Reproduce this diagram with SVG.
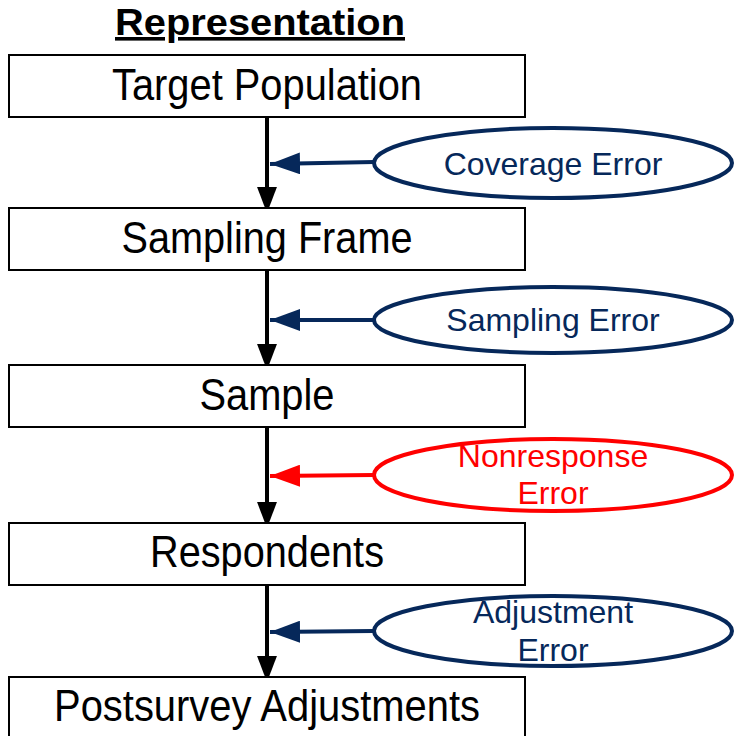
<svg xmlns="http://www.w3.org/2000/svg" width="734" height="736" viewBox="0 0 734 736">
<style>
.box{fill:#fff;stroke:#000;stroke-width:2}
.bt{font-family:"Liberation Sans",Arial,sans-serif;font-size:44px;fill:#000;text-anchor:middle}
.et{font-family:"Liberation Sans",Arial,sans-serif;font-size:32px;text-anchor:middle}
.navy{fill:#fff;stroke:#06285a;stroke-width:4}
.red{fill:#fff;stroke:#ff0000;stroke-width:4}
</style>
<defs>
<marker id="ab" markerUnits="userSpaceOnUse" markerWidth="26" markerHeight="34" refX="26" refY="13" orient="auto" viewBox="0 0 34 26"><path d="M0,0 L34,13 L0,26 Z" fill="#000"/></marker>
<marker id="an" markerUnits="userSpaceOnUse" markerWidth="30" markerHeight="22" refX="30" refY="11" orient="auto" viewBox="0 0 30 22"><path d="M0,0 L30,11 L0,22 Z" fill="#06285a"/></marker>
<marker id="ar" markerUnits="userSpaceOnUse" markerWidth="30" markerHeight="22" refX="30" refY="11" orient="auto" viewBox="0 0 30 22"><path d="M0,0 L30,11 L0,22 Z" fill="#ff0000"/></marker>
</defs>
<text x="260" y="35" font-family="Liberation Sans,Arial,sans-serif" font-size="36" font-weight="bold" text-anchor="middle" text-decoration="underline" textLength="290" lengthAdjust="spacingAndGlyphs">Representation</text>
<g id="connectors">
<line x1="267" y1="117" x2="267" y2="207" stroke="#000" stroke-width="4" marker-end="url(#ab)"/>
<line x1="267" y1="270" x2="267" y2="364" stroke="#000" stroke-width="4" marker-end="url(#ab)"/>
<line x1="267" y1="427" x2="267" y2="522" stroke="#000" stroke-width="4" marker-end="url(#ab)"/>
<line x1="267" y1="585" x2="267" y2="676" stroke="#000" stroke-width="4" marker-end="url(#ab)"/>
<line x1="374" y1="162" x2="270" y2="164" stroke="#06285a" stroke-width="4" marker-end="url(#an)"/>
<line x1="374" y1="320" x2="270" y2="320" stroke="#06285a" stroke-width="4" marker-end="url(#an)"/>
<line x1="374" y1="475" x2="270" y2="476" stroke="#ff0000" stroke-width="4" marker-end="url(#ar)"/>
<line x1="374" y1="631" x2="270" y2="632" stroke="#06285a" stroke-width="4" marker-end="url(#an)"/>
</g>
<g id="target"><rect class="box" x="9" y="55" width="516" height="62"/><text class="bt" x="267" y="100" textLength="310" lengthAdjust="spacingAndGlyphs">Target Population</text></g>
<g id="frame"><rect class="box" x="9" y="208" width="516" height="62"/><text class="bt" x="267" y="253" textLength="291" lengthAdjust="spacingAndGlyphs">Sampling Frame</text></g>
<g id="sample"><rect class="box" x="9" y="365" width="516" height="62"/><text class="bt" x="267" y="410" textLength="135" lengthAdjust="spacingAndGlyphs">Sample</text></g>
<g id="respondents"><rect class="box" x="9" y="523" width="516" height="62"/><text class="bt" x="267" y="567" textLength="234" lengthAdjust="spacingAndGlyphs">Respondents</text></g>
<g id="postsurvey"><rect class="box" x="9" y="677" width="516" height="70"/><text class="bt" x="267" y="721" textLength="426" lengthAdjust="spacingAndGlyphs">Postsurvey Adjustments</text></g>
<g id="coverage"><ellipse class="navy" cx="553" cy="163" rx="179" ry="35"/><text class="et" x="553" y="175" fill="#06285a">Coverage Error</text></g>
<g id="sampling"><ellipse class="navy" cx="553" cy="320" rx="179" ry="33"/><text class="et" x="553" y="331" fill="#06285a">Sampling Error</text></g>
<g id="nonresponse"><ellipse class="red" cx="553" cy="475" rx="179" ry="36"/><text class="et" x="553" y="467" fill="#ff0000">Nonresponse</text><text class="et" x="553" y="504" fill="#ff0000">Error</text></g>
<g id="adjustment"><ellipse class="navy" cx="553" cy="631" rx="179" ry="35"/><text class="et" x="553" y="623" fill="#06285a">Adjustment</text><text class="et" x="553" y="661" fill="#06285a">Error</text></g>
</svg>
